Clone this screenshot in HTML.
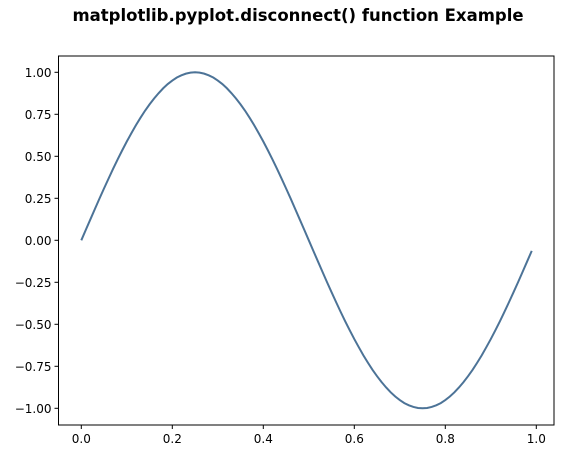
<!DOCTYPE html>
<html><head><meta charset="utf-8"><style>
body{margin:0;background:#fff;}
svg text{font-family:"DejaVu Sans","Liberation Sans",sans-serif;}
</style></head><body>
<svg id="chart" width="566" height="462" xmlns="http://www.w3.org/2000/svg">
<rect width="566" height="462" fill="#fff"/>
<text x="298" y="21" text-anchor="middle" font-size="16.5" font-weight="bold">matplotlib.pyplot.disconnect() function Example</text>
<g id="axes"></g>
</svg>
<script>
const posHalf = [0,.063,.125,.187,.249,.309,.368,.426,.482,.536,.588,.637,.685,.729,.771,.809,.844,.876,.905,.930,.951,.969,.982,.992,.998,1.0,.998,.992,.982,.969,.951,.930,.905,.876,.844,.809,.771,.729,.685,.637,.588,.536,.482,.426,.368,.309,.249,.187,.125,.063];
const negHalf = [0,-.063,-.125,-.187,-.249,-.309,-.368,-.426,-.482,-.536,-.588,-.637,-.685,-.729,-.771,-.809,-.844,-.876,-.905,-.930,-.951,-.969,-.982,-.992,-.998,-1.0,-.998,-.992,-.982,-.969,-.951,-.930,-.905,-.876,-.844,-.809,-.771,-.729,-.685,-.637,-.588,-.536,-.482,-.426,-.368,-.309,-.249,-.187,-.125,-.063];
const yValues = posHalf.concat(negHalf);
const xValues = yValues.map((v,i)=>i/100);
const xTicks = [0,0.2,0.4,0.6,0.8,1.0];
const xTickLabels = ["0.0","0.2","0.4","0.6","0.8","1.0"];
const yTicks = [1,0.75,0.5,0.25,0,-0.25,-0.5,-0.75,-1];
const yTickLabels = ["1.00","0.75","0.50","0.25","0.00","\u22120.25","\u22120.50","\u22120.75","\u22121.00"];

const NS="http://www.w3.org/2000/svg";
const g=document.getElementById('axes');
const L=58.5,R=554,T=56,B=425;
const xs=v=>81.3+v*455;
const ys=v=>240.3-v*168;
function mk(t,a){const e=document.createElementNS(NS,t);for(const k in a)e.setAttribute(k,a[k]);g.appendChild(e);return e;}
const frame=mk('rect',{x:L,y:T,width:R-L,height:B-T,fill:'none',stroke:'#000','stroke-width':1});


xTicks.forEach((v,i)=>{
  const t=mk('line',{x1:xs(v),x2:xs(v),y1:B,y2:B+4,stroke:'#000'});
  
  
  const l=mk('text',{x:xs(v),y:B+18,'text-anchor':'middle','font-size':12});
  l.textContent=xTickLabels[i];
  
  
});
yTicks.forEach((v,i)=>{
  const t=mk('line',{x1:L-4,x2:L,y1:ys(v),y2:ys(v),stroke:'#000'});
  
  
  const l=mk('text',{x:L-7,y:ys(v)+4.5,'text-anchor':'end','font-size':12});
  l.textContent=yTickLabels[i];
  
  
});
const d=yValues.map((v,i)=>(i?'L':'M')+xs(xValues[i]).toFixed(2)+' '+ys(v).toFixed(2)).join(' ');
const p=mk('path',{d:d,fill:'none',stroke:'#4c7397','stroke-width':2});


</script>
</body></html>
